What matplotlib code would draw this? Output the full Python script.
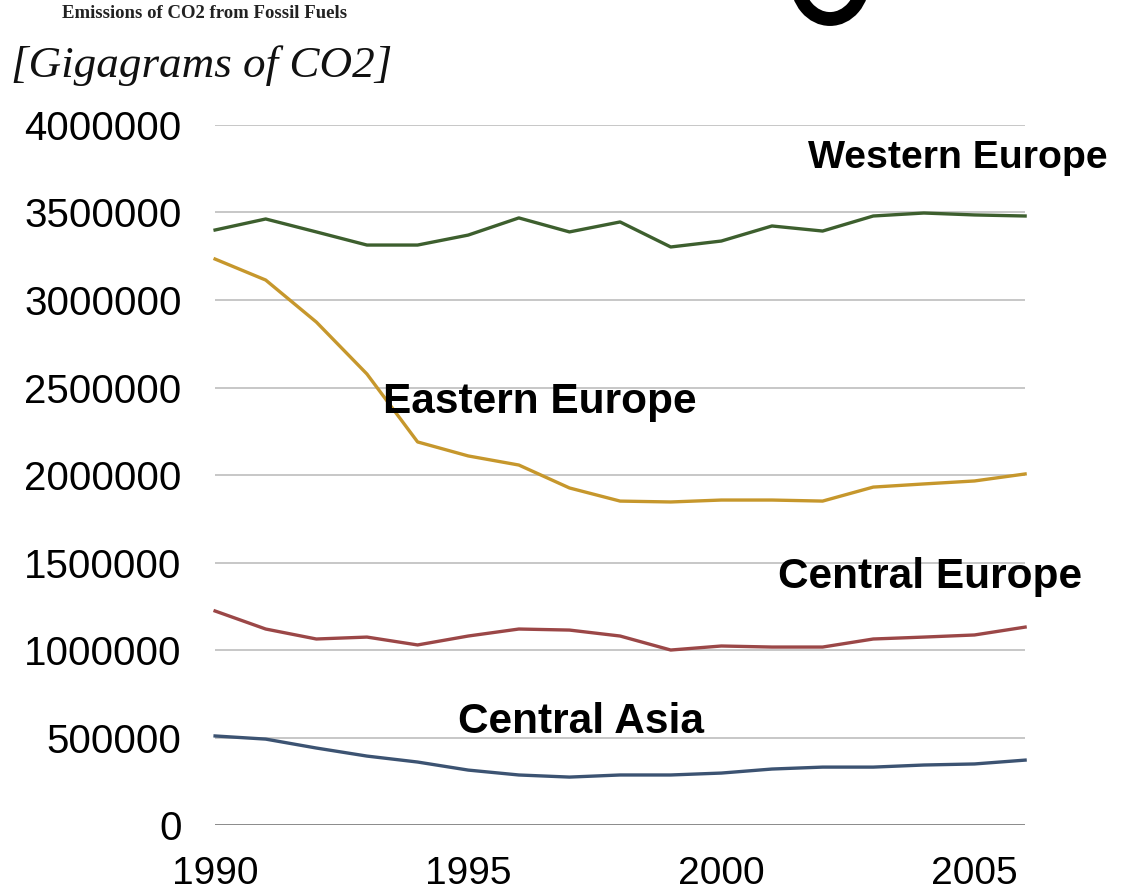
import matplotlib.pyplot as plt
from matplotlib.patches import Ellipse

# years on the x axis
years = list(range(1990, 2007))

# emissions in gigagrams of CO2
western_europe = [3400000, 3463000, 3389000, 3314000, 3314000, 3371000, 3469000, 3389000, 3446000,
                  3303000, 3337000, 3423000, 3394000, 3480000, 3497000, 3486000, 3480000]
eastern_europe = [3234000, 3114000, 2874000, 2577000, 2189000, 2109000, 2057000, 1926000, 1851000,
                  1846000, 1857000, 1857000, 1851000, 1931000, 1949000, 1966000, 2006000]
central_europe = [1223000, 1120000, 1063000, 1074000, 1029000, 1080000, 1120000, 1114000, 1080000,
                  1000000, 1023000, 1017000, 1017000, 1063000, 1074000, 1086000, 1131000]
central_asia = [509000, 491000, 440000, 394000, 360000, 314000, 286000, 274000, 286000,
                286000, 297000, 320000, 331000, 331000, 343000, 349000, 371000]

series = [western_europe, eastern_europe, central_europe, central_asia]
names = ["Western Europe", "Eastern Europe", "Central Europe", "Central Asia"]
colors = ["#3D5F2E", "#C6972C", "#9B4747", "#3C5372"]
# where the region names sit (data coords) and their size
label_pos = [(2004.68, 3810000), (1996.42, 2417000), (2004.12, 1417000), (1997.23, 589000)]
label_size = [28.3, 30.5, 30.5, 30.5]

yticks = list(range(0, 4000001, 500000))
xticks = [1990, 1995, 2000, 2005]

fig = plt.figure(figsize=(11.38, 8.96), dpi=100)
ax = fig.add_axes([0.189, 0.0792, 0.7118, 0.7813])

for y in yticks[1:]:
    ax.axhline(y, color="#BDBDBD", lw=1.2, zorder=1)
ax.axhline(0, color="#8A8A8A", lw=1.4, zorder=1)

for vals, col in zip(series, colors):
    ax.plot(years, vals, color=col, lw=2.4, zorder=3, clip_on=False)

for name, (px, py), fs in zip(names, label_pos, label_size):
    ax.text(px, py, name, ha="center", va="center", fontsize=fs, fontweight="bold",
            family="Liberation Sans", zorder=4)

ax.set_xlim(1990, 2006)
ax.set_ylim(0, 4000000)
ax.set_yticks(yticks)
ax.set_yticklabels([str(v) for v in yticks], family="Liberation Sans", fontsize=29)
ax.set_xticks(xticks)
ax.set_xticklabels([str(v) for v in xticks], family="Liberation Sans", fontsize=28)
ax.tick_params(axis="y", length=0, pad=24)
ax.tick_params(axis="x", length=0, pad=22)
for s in ax.spines.values():
    s.set_visible(False)

# bottom of a big cut-off letter at the top edge
fig.patches.append(Ellipse((8.30, 9.16), 0.66, 0.78, fill=False, lw=10, ec="black",
                           transform=fig.dpi_scale_trans))

fig.text(0.18, 0.9844, "Emissions of CO2 from Fossil Fuels", ha="center", va="center",
         fontsize=13.5, fontweight="bold", family="Liberation Serif", color="#222222")
fig.text(0.01, 0.927, "[Gigagrams of CO2]", ha="left", va="center", fontsize=32.5,
         style="italic", family="Liberation Serif", color="#111111")

fig.savefig("out.png", dpi=100)
